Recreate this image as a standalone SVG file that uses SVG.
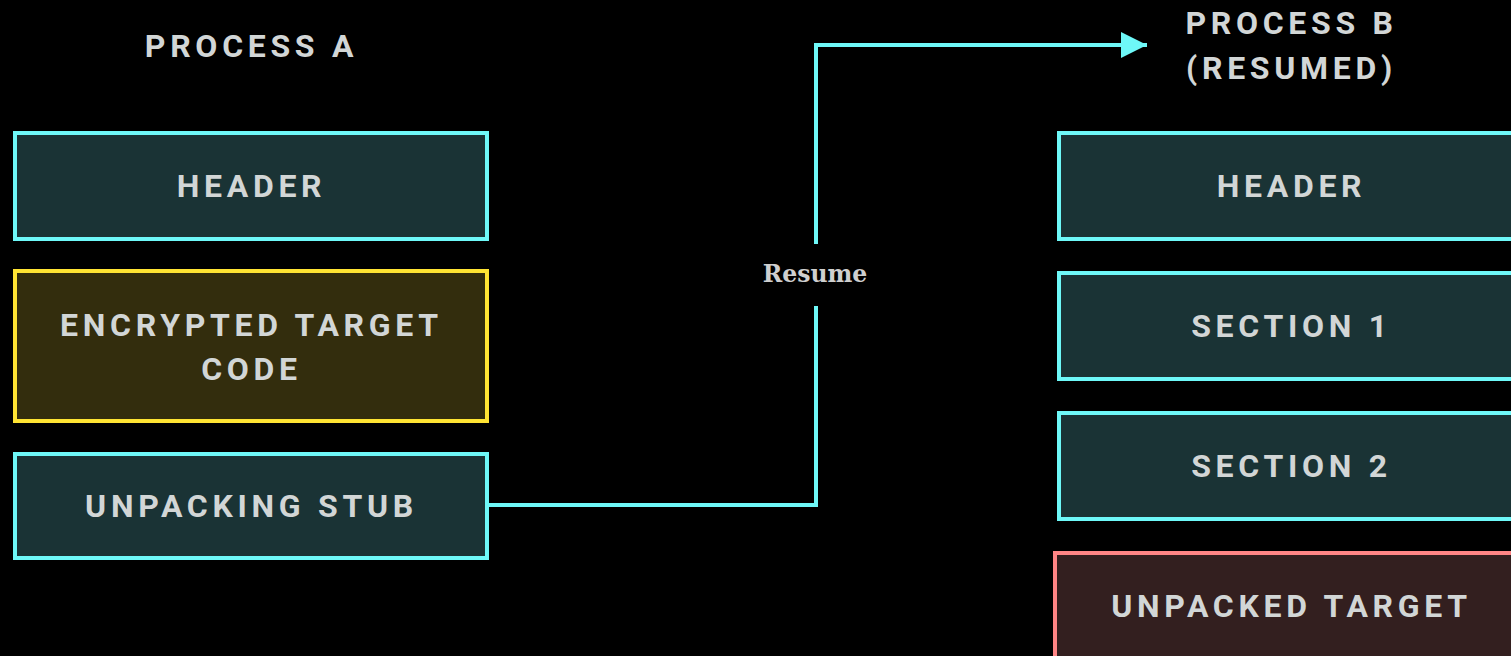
<svg xmlns="http://www.w3.org/2000/svg" width="1511" height="656" viewBox="0 0 1511 656">
<defs>
<style>
.t{font-family:Roboto,"Liberation Sans",sans-serif;font-weight:700;font-size:32px;letter-spacing:4.7px;fill:#d2d6d6;text-anchor:middle}
.cy{fill:#1a3335;stroke:#6ef8f8;stroke-width:4}
.ye{fill:#332d0d;stroke:#ffe433;stroke-width:4}
.pk{fill:#331f1f;stroke:#ff8585;stroke-width:4}
.lbl{font-family:"DejaVu Serif","Liberation Serif",serif;font-weight:700;font-size:23.5px;fill:#cfcfcf;text-anchor:middle}
.ln{fill:none;stroke:#6ef8f8;stroke-width:4}
</style>
<marker id="ah" markerWidth="26" markerHeight="26" refX="26" refY="13" orient="auto" markerUnits="userSpaceOnUse">
<path d="M0,0 L26,13 L0,26 Z" fill="#6ef8f8"/>
</marker>
</defs>
<rect width="1511" height="656" fill="#000"/>
<g id="title-a"><text class="t" x="251.5" y="57">PROCESS A</text></g>
<g id="title-b"><text class="t" x="1291.5" y="34">PROCESS B</text><text class="t" x="1291.5" y="79">(RESUMED)</text></g>
<g id="a-header"><rect class="cy" x="15" y="133" width="472" height="106"/><text class="t" x="251.5" y="197">HEADER</text></g>
<g id="a-encrypted"><rect class="ye" x="15" y="271" width="472" height="150"/><text class="t" x="251.5" y="336">ENCRYPTED TARGET</text><text class="t" x="251.5" y="380">CODE</text></g>
<g id="a-stub"><rect class="cy" x="15" y="454" width="472" height="104"/><text class="t" x="251.5" y="517">UNPACKING STUB</text></g>
<g id="b-header"><rect class="cy" x="1059" y="133" width="480" height="106"/><text class="t" x="1291.5" y="197">HEADER</text></g>
<g id="b-section1"><rect class="cy" x="1059" y="273" width="480" height="106"/><text class="t" x="1291.5" y="337">SECTION 1</text></g>
<g id="b-section2"><rect class="cy" x="1059" y="413" width="480" height="106"/><text class="t" x="1291.5" y="477">SECTION 2</text></g>
<g id="b-unpacked"><rect class="pk" x="1055" y="553" width="490" height="120"/><text class="t" x="1291.5" y="617">UNPACKED TARGET</text></g>
<g id="connectors">
<path class="ln" d="M489,505 H816 V306"/>
<path class="ln" d="M816,244 V45 H1147" marker-end="url(#ah)"/>
<text class="lbl" x="815" y="282">Resume</text>
</g>
</svg>
